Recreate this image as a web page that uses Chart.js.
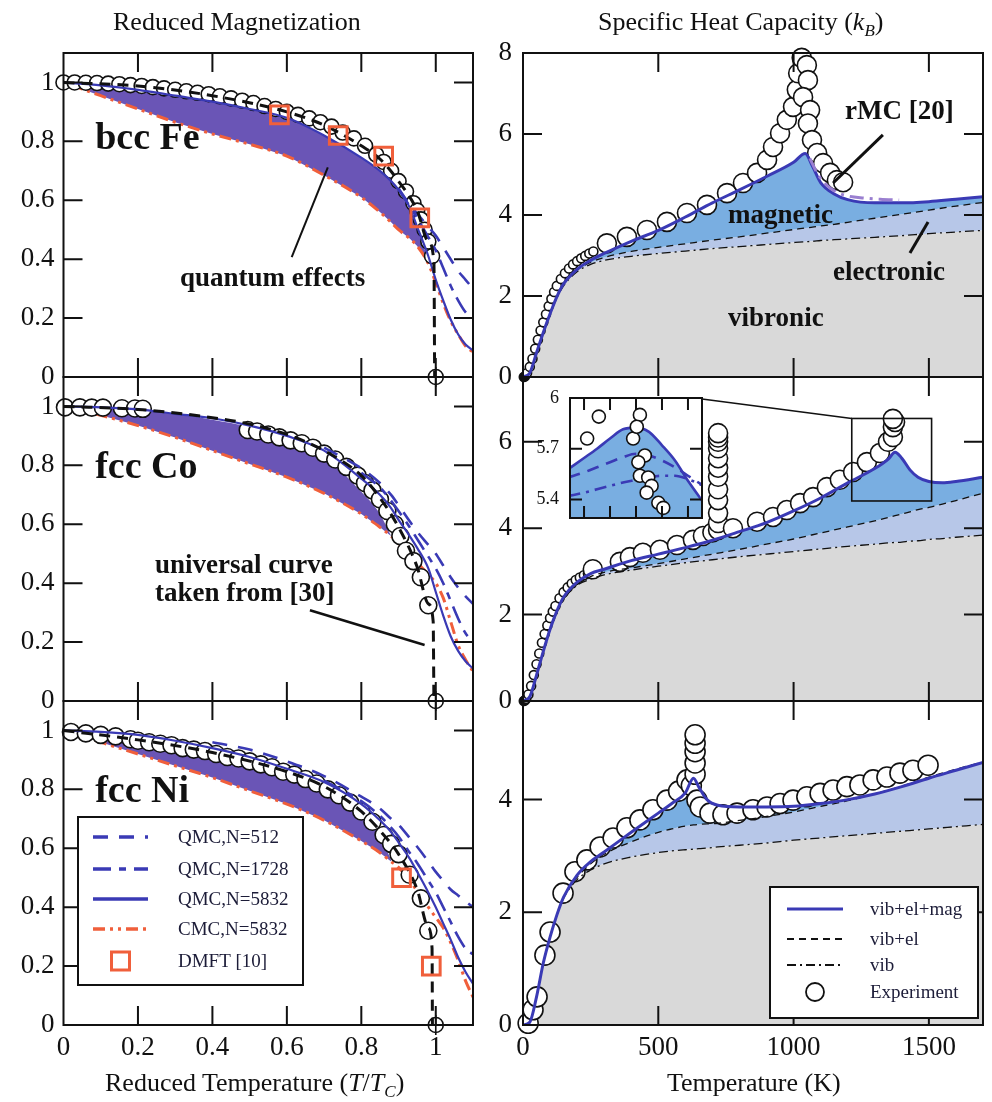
<!DOCTYPE html>
<html>
<head>
<meta charset="utf-8">
<title>Reduced magnetization and specific heat</title>
<script src="https://cdn.jsdelivr.net/npm/chart.js@4.4.1/dist/chart.umd.min.js"></script>
<style>
  html, body { margin: 0; padding: 0; background: #fff; }
  body { position: relative; width: 992px; height: 1102px; overflow: hidden;
         font-family: "Liberation Serif", "Times New Roman", serif; color: #111; }
  .panel { position: absolute; }
  .txt { position: absolute; white-space: nowrap; font-size: 26px; line-height: 30px; }
  .txt sub { font-size: 17px; vertical-align: -6px; line-height: 0; }
</style>
</head>
<body>
<div class="panel" style="left:0;top:28px;width:480px;height:374px"><canvas id="magFe"></canvas></div>
<div class="panel" style="left:0;top:352px;width:480px;height:374px"><canvas id="magCo"></canvas></div>
<div class="panel" style="left:0;top:676px;width:480px;height:419px"><canvas id="magNi"></canvas></div>
<div class="panel" style="left:480px;top:28px;width:512px;height:374px"><canvas id="cpFe"></canvas></div>
<div class="panel" style="left:480px;top:352px;width:512px;height:374px"><canvas id="cpCo"></canvas></div>
<div class="panel" style="left:480px;top:676px;width:512px;height:419px"><canvas id="cpNi"></canvas></div>
<div class="panel" style="left:530px;top:388px;width:180px;height:140px"><canvas id="cpInset"></canvas></div>

<div class="txt" style="left:113px;top:7px">Reduced Magnetization</div>
<div class="txt" style="left:598px;top:7px">Specific Heat Capacity (<i>k</i><sub><i>B</i></sub>)</div>
<div class="txt" style="left:105px;top:1068px">Reduced Temperature (<i>T</i>/<i>T</i><sub><i>C</i></sub>)</div>
<div class="txt" style="left:667px;top:1068px">Temperature (K)</div>

<script>
// ---------- tick labels ----------
const magTicks = [0, 0.2, 0.4, 0.6, 0.8, 1];
const tempTicks = [0, 500, 1000, 1500];
const cpTicksFe = [0, 2, 4, 6, 8];
const cpTicksCo = [0, 2, 4, 6];
const cpTicksNi = [0, 2, 4];
const insetTicksX = [1350, 1360, 1370, 1380, 1390];
const insetTicksY = [5.4, 5.7, 6];

// ---------- reduced magnetization (shared T/Tc grid for model curves) ----------
const magX = [0, 0.1, 0.2, 0.3, 0.4, 0.5, 0.6, 0.7, 0.8, 0.85, 0.88, 0.9, 0.93, 0.95, 0.98, 1.0, 1.02, 1.04, 1.06, 1.08, 1.1];
const tcX = [1], tcY = [0];

// bcc Fe
const feQ5832 = [1.0, 0.99, 0.975, 0.955, 0.935, 0.91, 0.88, 0.82, 0.745, 0.70, 0.665, 0.635, 0.575, 0.51, 0.41, 0.33, 0.26, 0.195, 0.145, 0.11, 0.09];
const feQ1728 = [null, null, null, null, null, null, null, null, null, null, null, 0.638, 0.58, 0.54, 0.475, 0.43, 0.37, 0.31, 0.26, 0.22, 0.20];
const feQ512 = [null, null, null, null, null, null, null, null, null, null, null, 0.64, 0.585, 0.555, 0.51, 0.48, 0.44, 0.40, 0.36, 0.33, 0.30];
const feCmc = [1.0, 0.955, 0.91, 0.865, 0.825, 0.79, 0.75, 0.685, 0.61, 0.56, 0.525, 0.50, 0.47, 0.445, 0.385, 0.32, 0.25, 0.19, 0.145, 0.105, 0.085];
const feQuantumTop = [1.0, 0.99, 0.975, 0.955, 0.935, 0.91, 0.88, 0.82, 0.745, 0.70, 0.665, 0.635, 0.575, 0.51, 0.395, null, null, null, null, null, null];
const feExpX = [0, 0.03, 0.06, 0.09, 0.12, 0.15, 0.18, 0.21, 0.24, 0.27, 0.30, 0.33, 0.36, 0.39, 0.42, 0.45, 0.48, 0.51, 0.54, 0.57, 0.60, 0.63, 0.66, 0.69, 0.72, 0.75, 0.78, 0.81, 0.84, 0.86, 0.88, 0.90, 0.92, 0.94, 0.95, 0.96, 0.97, 0.98, 0.99];
const feExpY = [1.0, 1.0, 0.999, 0.998, 0.996, 0.994, 0.991, 0.988, 0.984, 0.98, 0.975, 0.97, 0.965, 0.96, 0.953, 0.946, 0.938, 0.93, 0.92, 0.91, 0.90, 0.89, 0.878, 0.865, 0.85, 0.83, 0.81, 0.785, 0.755, 0.73, 0.70, 0.665, 0.63, 0.59, 0.565, 0.535, 0.50, 0.46, 0.41];
const feUnivX = [0, 0.2, 0.4, 0.6, 0.7, 0.8, 0.85, 0.9, 0.95, 0.98, 0.995, 0.997];
const feUnivY = [1.0, 0.988, 0.955, 0.90, 0.855, 0.785, 0.74, 0.665, 0.565, 0.46, 0.39, 0];
const feDmftX = [0.58, 0.738, 0.86, 0.957];
const feDmftY = [0.89, 0.82, 0.75, 0.54];

// fcc Co
const coQ5832 = [1.0, 0.997, 0.99, 0.975, 0.96, 0.935, 0.90, 0.85, 0.755, 0.70, 0.655, 0.615, 0.56, 0.52, 0.45, 0.37, 0.29, 0.22, 0.17, 0.135, 0.11];
const coQ1728 = [null, null, null, null, null, null, null, null, 0.775, 0.725, 0.68, 0.645, 0.59, 0.55, 0.49, 0.45, 0.40, 0.34, 0.28, 0.23, 0.20];
const coQ512 = [null, null, null, null, null, null, null, 0.86, 0.79, 0.74, 0.70, 0.665, 0.61, 0.575, 0.53, 0.50, 0.46, 0.42, 0.385, 0.355, 0.33];
const coCmc = [1.0, 0.97, 0.935, 0.895, 0.85, 0.805, 0.76, 0.705, 0.635, 0.59, 0.56, 0.535, 0.50, 0.47, 0.43, 0.40, 0.35, 0.27, 0.19, 0.14, 0.10];
const coQuantumTop = [1.0, 0.997, 0.99, 0.975, 0.955, 0.93, 0.89, 0.83, 0.71, 0.635, 0.56, null, null, null, null, null, null, null, null, null, null];
const coExpX = [0.004, 0.044, 0.076, 0.106, 0.157, 0.192, 0.213, 0.495, 0.52, 0.55, 0.58, 0.61, 0.64, 0.67, 0.70, 0.73, 0.76, 0.79, 0.81, 0.83, 0.85, 0.87, 0.89, 0.905, 0.92, 0.94, 0.96, 0.98];
const coExpY = [0.997, 0.997, 0.996, 0.996, 0.994, 0.993, 0.992, 0.92, 0.915, 0.905, 0.895, 0.885, 0.875, 0.86, 0.84, 0.82, 0.795, 0.765, 0.74, 0.715, 0.685, 0.645, 0.60, 0.56, 0.51, 0.475, 0.42, 0.325];
const coUnivX = [0, 0.2, 0.4, 0.5, 0.6, 0.7, 0.8, 0.85, 0.9, 0.95, 0.98, 0.993, 0.995];
const coUnivY = [1.0, 0.99, 0.962, 0.94, 0.905, 0.85, 0.765, 0.69, 0.59, 0.455, 0.33, 0.27, 0];

// fcc Ni
const niQ5832 = [1.0, 0.995, 0.985, 0.965, 0.94, 0.91, 0.87, 0.825, 0.75, 0.695, 0.655, 0.62, 0.565, 0.52, 0.45, 0.40, 0.345, 0.29, 0.23, 0.18, 0.14];
const niQ1728 = [null, null, null, null, null, null, null, 0.83, 0.76, 0.71, 0.67, 0.64, 0.585, 0.55, 0.49, 0.45, 0.40, 0.35, 0.30, 0.26, 0.24];
const niQ512 = [null, null, null, null, 0.96, 0.935, 0.895, 0.845, 0.775, 0.735, 0.70, 0.68, 0.635, 0.605, 0.555, 0.52, 0.49, 0.46, 0.44, 0.42, 0.40];
const niCmc = [1.0, 0.96, 0.92, 0.88, 0.84, 0.795, 0.75, 0.695, 0.625, 0.585, 0.555, 0.535, 0.49, 0.455, 0.40, 0.365, 0.33, 0.28, 0.22, 0.15, 0.095];
const niQuantumTop = [1.0, 0.99, 0.975, 0.955, 0.93, 0.895, 0.855, 0.805, 0.72, 0.645, 0.56, null, null, null, null, null, null, null, null, null, null];
const niExpX = [0.02, 0.06, 0.1, 0.14, 0.18, 0.2, 0.23, 0.26, 0.29, 0.32, 0.35, 0.38, 0.41, 0.44, 0.47, 0.5, 0.53, 0.56, 0.59, 0.62, 0.65, 0.68, 0.71, 0.74, 0.77, 0.8, 0.83, 0.86, 0.88, 0.9, 0.93, 0.96, 0.98];
const niExpY = [0.995, 0.99, 0.985, 0.98, 0.97, 0.965, 0.96, 0.955, 0.95, 0.94, 0.935, 0.93, 0.92, 0.91, 0.905, 0.895, 0.885, 0.875, 0.86, 0.85, 0.835, 0.82, 0.80, 0.78, 0.755, 0.725, 0.69, 0.645, 0.615, 0.58, 0.51, 0.43, 0.32];
const niUnivX = [0, 0.2, 0.4, 0.6, 0.7, 0.8, 0.85, 0.9, 0.95, 0.98, 0.99, 0.991];
const niUnivY = [1.0, 0.968, 0.925, 0.86, 0.81, 0.725, 0.66, 0.58, 0.46, 0.33, 0.26, 0];
const niDmftX = [0.908, 0.988];
const niDmftY = [0.50, 0.20];

// ---------- specific heat (kB) ----------
const feT = [0, 25, 50, 75, 100, 125, 150, 200, 250, 300, 400, 500, 600, 700, 800, 900, 1000, 1043, 1070, 1100, 1150, 1200, 1300, 1400, 1500, 1600, 1700];
const feVib = [0, 0.1, 0.6, 1.1, 1.55, 1.95, 2.25, 2.6, 2.78, 2.88, 2.98, 3.05, 3.11, 3.17, 3.22, 3.27, 3.32, 3.34, 3.35, 3.37, 3.39, 3.41, 3.45, 3.49, 3.54, 3.58, 3.62];
const feVibEl = [0, 0.1, 0.6, 1.1, 1.56, 1.97, 2.28, 2.64, 2.83, 2.95, 3.1, 3.2, 3.29, 3.38, 3.46, 3.55, 3.64, 3.68, 3.7, 3.73, 3.77, 3.82, 3.92, 4.02, 4.12, 4.22, 4.31];
const feTotal = [0, 0.1, 0.6, 1.1, 1.56, 1.98, 2.3, 2.66, 2.88, 3.05, 3.35, 3.62, 3.95, 4.3, 4.62, 4.95, 5.3, 5.52, 5.2, 4.8, 4.52, 4.38, 4.3, 4.3, 4.33, 4.39, 4.45];
const feRmcT = [1060, 1090, 1120, 1160, 1200, 1260, 1320, 1390];
const feRmc = [5.4, 5.0, 4.75, 4.56, 4.47, 4.42, 4.39, 4.37];
const feCpExpT = [3, 8, 15, 25, 35, 45, 55, 65, 75, 85, 95, 105, 115, 125, 140, 155, 170, 185, 200, 215, 230, 245, 260, 310, 384, 458, 532, 606, 680, 754, 813, 865, 902, 924, 950, 975, 998, 1012, 1017, 1030, 1049, 1053, 1035, 1061, 1053, 1068, 1087, 1109, 1135, 1160, 1183];
const feCpExp = [0, 0.02, 0.1, 0.25, 0.45, 0.7, 0.92, 1.15, 1.35, 1.55, 1.75, 1.93, 2.1, 2.25, 2.42, 2.56, 2.68, 2.78, 2.86, 2.93, 2.99, 3.05, 3.1, 3.3, 3.46, 3.63, 3.83, 4.05, 4.25, 4.54, 4.79, 5.04, 5.36, 5.68, 6.02, 6.35, 6.67, 7.09, 7.5, 7.88, 7.7, 7.33, 6.91, 6.59, 6.26, 5.85, 5.53, 5.28, 5.04, 4.86, 4.81];

const coT = [0, 25, 50, 75, 100, 125, 150, 200, 250, 300, 400, 500, 600, 700, 800, 900, 1000, 1100, 1200, 1300, 1350, 1375, 1400, 1430, 1460, 1500, 1550, 1600, 1700];
const coVib = [0, 0.1, 0.6, 1.15, 1.65, 2.05, 2.35, 2.68, 2.82, 2.92, 3.03, 3.12, 3.2, 3.27, 3.34, 3.4, 3.46, 3.52, 3.58, 3.63, 3.66, 3.67, 3.68, 3.7, 3.71, 3.74, 3.76, 3.79, 3.84];
const coVibEl = [0, 0.1, 0.6, 1.15, 1.66, 2.07, 2.37, 2.72, 2.88, 2.98, 3.08, 3.18, 3.29, 3.40, 3.51, 3.63, 3.75, 3.89, 4.03, 4.17, 4.25, 4.29, 4.33, 4.38, 4.43, 4.48, 4.56, 4.64, 4.81];
const coTotal = [0, 0.1, 0.6, 1.15, 1.66, 2.08, 2.4, 2.75, 2.95, 3.05, 3.25, 3.4, 3.55, 3.72, 3.92, 4.13, 4.4, 4.7, 5.05, 5.38, 5.6, 5.76, 5.62, 5.35, 5.18, 5.08, 5.05, 5.08, 5.18];
const coCpExpT = [3, 8, 12, 20, 30, 40, 50, 60, 70, 80, 90, 100, 110, 120, 135, 150, 165, 180, 195, 210, 225, 240, 258, 358, 395, 443, 506, 569, 628, 665, 700, 721, 721, 721, 721, 721, 721, 721, 721, 721, 721, 721, 721, 776, 865, 924, 975, 1024, 1072, 1123, 1171, 1220, 1271, 1319, 1349, 1367, 1367, 1375, 1367];
const coCpExp = [0, 0.02, 0.05, 0.15, 0.35, 0.6, 0.85, 1.1, 1.35, 1.55, 1.75, 1.92, 2.07, 2.2, 2.38, 2.52, 2.63, 2.72, 2.8, 2.86, 2.91, 2.95, 3.05, 3.22, 3.33, 3.43, 3.5, 3.61, 3.73, 3.82, 3.9, 3.96, 4.12, 4.35, 4.65, 4.9, 5.19, 5.4, 5.62, 5.85, 6.0, 6.1, 6.2, 4.0, 4.15, 4.26, 4.42, 4.58, 4.72, 4.95, 5.12, 5.3, 5.53, 5.74, 6.0, 6.11, 6.34, 6.46, 6.53];

const niT = [0, 25, 50, 75, 100, 125, 150, 200, 250, 300, 400, 500, 550, 600, 630, 650, 680, 720, 800, 900, 1000, 1100, 1200, 1300, 1400, 1500, 1600, 1700];
const niVib = [0, 0.05, 0.5, 1.1, 1.56, 1.95, 2.25, 2.58, 2.75, 2.86, 2.98, 3.06, 3.09, 3.11, 3.12, 3.13, 3.14, 3.16, 3.19, 3.23, 3.28, 3.32, 3.36, 3.4, 3.44, 3.48, 3.52, 3.56];
const niVibEl = [0, 0.05, 0.5, 1.1, 1.56, 1.95, 2.26, 2.62, 2.86, 3.03, 3.25, 3.42, 3.48, 3.53, 3.55, 3.56, 3.57, 3.58, 3.63, 3.7, 3.78, 3.88, 3.98, 4.1, 4.24, 4.4, 4.54, 4.67];
const niTotal = [0, 0.05, 0.5, 1.1, 1.56, 1.95, 2.27, 2.66, 2.9, 3.07, 3.42, 3.76, 3.93, 4.12, 4.38, 4.22, 4.0, 3.9, 3.87, 3.87, 3.88, 3.93, 4.0, 4.1, 4.23, 4.38, 4.52, 4.66];
const niCpExpT = [5, 12, 19, 37, 52, 81, 100, 148, 192, 236, 285, 333, 384, 432, 480, 532, 575, 606, 622, 636, 636, 636, 636, 636, 643, 655, 691, 739, 791, 850, 902, 950, 998, 1049, 1098, 1146, 1197, 1245, 1294, 1345, 1393, 1441, 1497];
const niCpExp = [0, 0.01, 0.03, 0.27, 0.5, 1.24, 1.65, 2.34, 2.72, 2.93, 3.16, 3.32, 3.5, 3.64, 3.82, 3.99, 4.15, 4.35, 4.25, 4.45, 4.65, 4.85, 5.0, 5.15, 3.99, 3.87, 3.76, 3.73, 3.76, 3.82, 3.87, 3.93, 3.99, 4.05, 4.11, 4.17, 4.23, 4.26, 4.35, 4.4, 4.47, 4.52, 4.61];

// inset: Co peak close-up
const insetT = [1344, 1350, 1355, 1360, 1365, 1370, 1375, 1380, 1385, 1390, 1396];
const insetSolid = [5.58, 5.645, 5.70, 5.76, 5.815, 5.825, 5.80, 5.72, 5.63, 5.51, 5.38];
const insetDash = [5.53, 5.56, 5.59, 5.62, 5.65, 5.67, 5.66, 5.63, 5.59, 5.54, 5.48];
const insetDashDot = [5.42, 5.44, 5.46, 5.48, 5.5, 5.515, 5.53, 5.54, 5.54, 5.52, 5.48];
const insetExpT = [1351.2, 1355.7, 1371.5, 1368.9, 1370.3, 1373.4, 1370.9, 1371.5, 1374.7, 1376, 1374.1, 1378.6, 1380.5];
const insetExp = [5.76, 5.89, 5.9, 5.76, 5.83, 5.66, 5.62, 5.54, 5.53, 5.48, 5.44, 5.38, 5.35];

// ---------- styles ----------
const INK = '#111';
const BLUE = '#3a3ab5';
const RED = '#f05f3b';
const PURPLE = '#6a55b6';
const GREY = '#d9d9d9';
const ELEC = '#b7c7e8';
const MAG = '#79aee1';
const SERIF = '"Liberation Serif", "Times New Roman", serif';

Chart.defaults.font.family = SERIF;
Chart.defaults.color = INK;

function pts(xs, ys) {
    const out = [];
    xs.forEach((x, i) => { if (ys[i] !== null && ys[i] !== undefined) out.push({ x: x, y: ys[i] }); });
    return out;
}

function curve(label, xs, ys, style) {
    return Object.assign({ label, data: pts(xs, ys), showLine: true, pointRadius: 0,
        cubicInterpolationMode: 'monotone', fill: false }, style);
}

function markers(label, xs, ys, style) {
    return Object.assign({ label, data: pts(xs, ys), showLine: false, clip: false,
        pointStyle: 'circle', pointBorderColor: INK, pointBorderWidth: 1.6,
        pointBackgroundColor: '#fff' }, style);
}

function xAxis(min, max, ticks, h, show) {
    return {
        type: 'linear', min, max, bounds: 'data',
        afterBuildTicks: s => { s.ticks = ticks.map(v => ({ value: v })); },
        afterFit: s => { s.height = h; s.paddingLeft = 0; s.paddingRight = 0; },
        grid: { display: false, drawTicks: false }, border: { display: false },
        ticks: { display: show, padding: 7, autoSkip: false, maxRotation: 0,
                 font: { size: 27 }, callback: v => String(v) }
    };
}

function yAxis(min, max, ticks, w, pad, size) {
    return {
        type: 'linear', min, max, bounds: 'data',
        afterBuildTicks: s => { s.ticks = ticks.map(v => ({ value: v })); },
        afterFit: s => { s.width = w; s.paddingTop = 0; s.paddingBottom = 0; },
        grid: { display: false, drawTicks: false }, border: { display: false },
        ticks: { padding: pad, autoSkip: false, font: { size: size || 27 }, callback: v => String(v) }
    };
}

function drawLegend(chart, L) {
    const c = chart.ctx, a = chart.chartArea;
    const bx = a.left + L.left, by = a.top + L.top;
    c.fillStyle = '#fff';
    c.fillRect(bx, by, L.w, L.h);
    c.strokeStyle = INK; c.lineWidth = 2; c.setLineDash([]);
    c.strokeRect(bx, by, L.w, L.h);
    L.items.forEach((label, i) => {
        const ds = chart.data.datasets.find(d => d.label === label);
        const y = by + L.rows[i], x1 = bx + L.s1, x2 = bx + L.s2;
        if (ds.showLine) {
            c.strokeStyle = ds.borderColor;
            c.lineWidth = Math.max(ds.borderWidth, L.minW);
            c.setLineDash(ds.borderDash || []);
            c.beginPath(); c.moveTo(x1, y); c.lineTo(x2, y); c.stroke();
            c.setLineDash([]);
        } else if (ds.pointStyle === 'rect') {
            const h = 9;
            c.strokeStyle = ds.pointBorderColor; c.lineWidth = ds.pointBorderWidth;
            c.strokeRect((x1 + x2) / 2 - h, y - h, 2 * h, 2 * h);
        } else {
            c.strokeStyle = INK; c.lineWidth = 1.8;
            c.beginPath(); c.arc((x1 + x2) / 2, y, 9, 0, 2 * Math.PI); c.stroke();
        }
        c.fillStyle = L.color; c.font = L.font;
        c.textAlign = 'left'; c.textBaseline = 'middle';
        c.fillText(label, bx + L.tx, y + 1);
    });
}

// frame with inward ticks on all four sides, plus notes, pointers and legend
const deco = {
    id: 'deco',
    beforeDraw(chart, args, o) {
        if (!o || !o.whiteArea) return;
        const a = chart.chartArea, c = chart.ctx;
        c.save(); c.fillStyle = '#fff'; c.fillRect(a.left, a.top, a.width, a.height); c.restore();
    },
    afterDraw(chart, args, o) {
        if (!o || !o.tickLen) return;
        const c = chart.ctx, a = chart.chartArea, sx = chart.scales.x, sy = chart.scales.y;
        const X = v => sx.getPixelForValue(v), Y = v => sy.getPixelForValue(v);
        c.save();
        c.strokeStyle = INK; c.setLineDash([]); c.lineWidth = o.frame || 2;
        c.beginPath();
        (o.xTicks || []).forEach(v => {
            const p = X(v);
            if (p < a.left + 2 || p > a.right - 2) return;
            c.moveTo(p, a.top); c.lineTo(p, a.top + o.tickLen);
            c.moveTo(p, a.bottom); c.lineTo(p, a.bottom - o.tickLen);
        });
        (o.yTicks || []).forEach(v => {
            const p = Y(v);
            if (p < a.top + 2 || p > a.bottom - 2) return;
            c.moveTo(a.left, p); c.lineTo(a.left + o.tickLen, p);
            c.moveTo(a.right, p); c.lineTo(a.right - o.tickLen, p);
        });
        c.stroke();
        c.strokeRect(a.left, a.top, a.width, a.height);
        (o.rects || []).forEach(r => {
            c.lineWidth = 1.6;
            c.strokeRect(X(r.x1), Y(r.y1), X(r.x2) - X(r.x1), Y(r.y2) - Y(r.y1));
        });
        (o.lines || []).forEach(l => {
            c.lineWidth = l.w;
            c.beginPath(); c.moveTo(X(l.x1), Y(l.y1)); c.lineTo(X(l.x2), Y(l.y2)); c.stroke();
        });
        c.fillStyle = INK; c.textAlign = 'left'; c.textBaseline = 'alphabetic';
        (o.texts || []).forEach(t => { c.font = t.font; c.fillText(t.text, X(t.x), Y(t.y)); });
        if (o.legend) drawLegend(chart, o.legend);
        c.restore();
    }
};
Chart.register(deco);

function baseOptions(scales, padding, decoOpts) {
    return {
        responsive: true, maintainAspectRatio: false, animation: false, events: [],
        devicePixelRatio: 1,
        layout: { autoPadding: false, padding },
        scales,
        plugins: { legend: { display: false }, tooltip: { enabled: false },
                   filler: { drawTime: 'beforeDatasetsDraw' }, deco: decoOpts }
    };
}

// ---------- magnetization panels ----------
const BIG = 'bold 38px ' + SERIF;
const NOTE = 'bold 27px ' + SERIF;

function magPanel(id, d, bottom, decoExtra) {
    const topPts = pts(magX, d.top);
    const botPts = topPts.map(p => ({ x: p.x, y: d.cmc[magX.indexOf(p.x)] }));
    const datasets = [
        { label: 'quantum base', data: botPts, showLine: true, pointRadius: 0, borderWidth: 0,
          borderColor: 'rgba(0,0,0,0)', fill: false, order: 9 },
        { label: 'quantum effects', data: topPts, showLine: true, pointRadius: 0, borderWidth: 0,
          borderColor: 'rgba(0,0,0,0)', backgroundColor: PURPLE, fill: '-1', order: 8,
          cubicInterpolationMode: 'monotone' },
        curve('CMC,N=5832', magX, d.cmc, { borderColor: RED, borderWidth: 3, borderDash: [12, 5, 3, 5, 3, 5], order: 5 }),
        curve('QMC,N=512', magX, d.q512, { borderColor: BLUE, borderWidth: 2.6, borderDash: [15, 11], order: 3 }),
        curve('QMC,N=1728', magX, d.q1728, { borderColor: BLUE, borderWidth: 2.6, borderDash: [18, 8, 7, 8], order: 3 }),
        markers('Experiment', d.expX, d.expY, { pointRadius: d.r, order: 4 }),
        curve('QMC,N=5832', magX, d.q5832, { borderColor: BLUE, borderWidth: 2.2, order: 2 }),
        curve('universal curve', d.univX, d.univY, { borderColor: INK, borderWidth: 3, borderDash: [11, 7], order: 1 }),
        markers('DMFT [10]', d.dmftX || [], d.dmftY || [], { pointStyle: 'rect', pointRadius: 12.5,
            pointBorderColor: RED, pointBorderWidth: 3, pointBackgroundColor: 'rgba(0,0,0,0)', order: 0 }),
        markers('Tc', tcX, tcY, { pointRadius: 7.5, pointBackgroundColor: 'rgba(0,0,0,0)', order: 0 }),
        markers('Tc mark', tcX, tcY, { pointStyle: 'cross', pointRadius: 10, pointBorderWidth: 1.6, order: 0 })
    ];
    const deco = Object.assign({ xTicks: magTicks, yTicks: magTicks, tickLen: 19 }, decoExtra);
    new Chart(document.getElementById(id), {
        type: 'line',
        data: { datasets },
        options: baseOptions({
            x: xAxis(0, 1.1, magTicks, bottom ? 70 : 25, bottom),
            y: yAxis(0, 1.1, magTicks, 63.5, 9)
        }, { top: 25, right: 7, left: 0, bottom: 0 }, deco)
    });
}

magPanel('magFe', { q5832: feQ5832, q1728: feQ1728, q512: feQ512, cmc: feCmc, top: feQuantumTop, r: 7.5,
    expX: feExpX, expY: feExpY, univX: feUnivX, univY: feUnivY, dmftX: feDmftX, dmftY: feDmftY }, false, {
    texts: [ { text: 'bcc Fe', x: 0.085, y: 0.773, font: BIG },
             { text: 'quantum effects', x: 0.313, y: 0.31, font: NOTE } ],
    lines: [ { x1: 0.613, y1: 0.407, x2: 0.71, y2: 0.712, w: 2 } ]
});

magPanel('magCo', { q5832: coQ5832, q1728: coQ1728, q512: coQ512, cmc: coCmc, top: coQuantumTop, r: 8.5,
    expX: coExpX, expY: coExpY, univX: coUnivX, univY: coUnivY }, false, {
    texts: [ { text: 'fcc Co', x: 0.085, y: 0.756, font: BIG },
             { text: 'universal curve', x: 0.246, y: 0.434, font: NOTE },
             { text: 'taken from [30]', x: 0.246, y: 0.34, font: NOTE } ],
    lines: [ { x1: 0.662, y1: 0.308, x2: 0.970, y2: 0.19, w: 2.5 } ]
});

magPanel('magNi', { q5832: niQ5832, q1728: niQ1728, q512: niQ512, cmc: niCmc, top: niQuantumTop, r: 8.5,
    expX: niExpX, expY: niExpY, univX: niUnivX, univY: niUnivY, dmftX: niDmftX, dmftY: niDmftY }, true, {
    texts: [ { text: 'fcc Ni', x: 0.085, y: 0.756, font: BIG } ],
    legend: { left: 14.5, top: 116, w: 225, h: 168, rows: [20, 52, 82, 112, 144], s1: 15, s2: 70, tx: 100,
              minW: 3.5, font: '19px ' + SERIF, color: '#1c1c38',
              items: ['QMC,N=512', 'QMC,N=1728', 'QMC,N=5832', 'CMC,N=5832', 'DMFT [10]'] }
});

// ---------- specific heat panels ----------
function cpPanel(id, d, yMax, yTicks, bottom, decoExtra) {
    const datasets = [
        curve('vib', d.T, d.vib, { borderColor: INK, borderWidth: 1.3, borderDash: [9, 4, 2, 4],
            fill: 'origin', backgroundColor: GREY, order: 3 }),
        curve('vib+el', d.T, d.vibEl, { borderColor: INK, borderWidth: 1.3, borderDash: [7, 5],
            fill: '-1', backgroundColor: ELEC, order: 3 }),
        curve('vib+el+mag', d.T, d.total, { borderColor: BLUE, borderWidth: 3,
            fill: '-1', backgroundColor: MAG, order: 2 }),
        markers('Experiment', d.expT, d.exp, {
            pointRadius: ctx => (ctx.raw && ctx.raw.x < d.smallBelow) ? 4.5 : d.r,
            pointBackgroundColor: ctx => (ctx.raw && ctx.raw.x < 10) ? INK : '#fff',
            order: 4 })
    ];
    (d.extra || []).forEach(e => datasets.push(e));
    const deco = Object.assign({ xTicks: tempTicks, yTicks, tickLen: 19 }, decoExtra);
    new Chart(document.getElementById(id), {
        type: 'line',
        data: { datasets },
        options: baseOptions({
            x: xAxis(0, 1700, tempTicks, bottom ? 70 : 25, bottom),
            y: yAxis(0, yMax, yTicks, 43, 11)
        }, { top: 25, right: 9, left: 0, bottom: 0 }, deco)
    });
}

cpPanel('cpFe', { T: feT, vib: feVib, vibEl: feVibEl, total: feTotal, expT: feCpExpT, exp: feCpExp,
    smallBelow: 280, r: 9.5,
    extra: [ curve('rMC [20]', feRmcT, feRmc, { borderColor: '#9a7fd0', borderWidth: 3,
             borderDash: [14, 6, 3, 6], order: 1 }) ] }, 8, cpTicksFe, false, {
    texts: [ { text: 'rMC [20]', x: 1190, y: 6.38, font: NOTE },
             { text: 'magnetic', x: 758, y: 3.8, font: NOTE },
             { text: 'electronic', x: 1146, y: 2.4, font: NOTE },
             { text: 'vibronic', x: 758, y: 1.26, font: NOTE } ],
    lines: [ { x1: 1330, y1: 5.98, x2: 1146, y2: 4.79, w: 3 },
             { x1: 1497, y1: 3.83, x2: 1430, y2: 3.06, w: 3 } ]
});

cpPanel('cpCo', { T: coT, vib: coVib, vibEl: coVibEl, total: coTotal, expT: coCpExpT, exp: coCpExp,
    smallBelow: 250, r: 9.5 }, 7.5, cpTicksCo, false, {
    rects: [ { x1: 1215, y1: 6.54, x2: 1510, y2: 4.63 } ],
    lines: [ { x1: 661.5, y1: 6.99, x2: 1215, y2: 6.54, w: 1.6 } ]
});

cpPanel('cpNi', { T: niT, vib: niVib, vibEl: niVibEl, total: niTotal, expT: niCpExpT, exp: niCpExp,
    smallBelow: 15, r: 10 }, 5.75, cpTicksNi, true, {
    legend: { left: 247, top: 186, w: 208, h: 131, rows: [22, 52, 78, 105], s1: 17, s2: 73, tx: 100,
              minW: 1.8, font: '19px ' + SERIF, color: '#1c1c38',
              items: ['vib+el+mag', 'vib+el', 'vib', 'Experiment'] }
});

// ---------- inset ----------
new Chart(document.getElementById('cpInset'), {
    type: 'line',
    data: { datasets: [
        curve('inset QMC,N=5832', insetT, insetSolid, { borderColor: BLUE, borderWidth: 2.6,
            fill: 'start', backgroundColor: MAG, order: 2 }),
        curve('inset QMC,N=1728', insetT, insetDash, { borderColor: BLUE, borderWidth: 2.6, borderDash: [12, 8], order: 2 }),
        curve('inset QMC,N=512', insetT, insetDashDot, { borderColor: BLUE, borderWidth: 2.6, borderDash: [12, 6, 3, 6], order: 2 }),
        markers('inset Experiment', insetExpT, insetExp, { pointRadius: 6.5, clip: true, order: 1 })
    ] },
    options: baseOptions({
        x: xAxis(1344.6, 1395.4, insetTicksX, 10, false),
        y: yAxis(5.29, 6.0, insetTicksY, 40, 11, 18)
    }, { top: 10, right: 8, left: 0, bottom: 0 }, { xTicks: insetTicksX, yTicks: insetTicksY, tickLen: 12, whiteArea: true })
});
</script>
</body>
</html>
